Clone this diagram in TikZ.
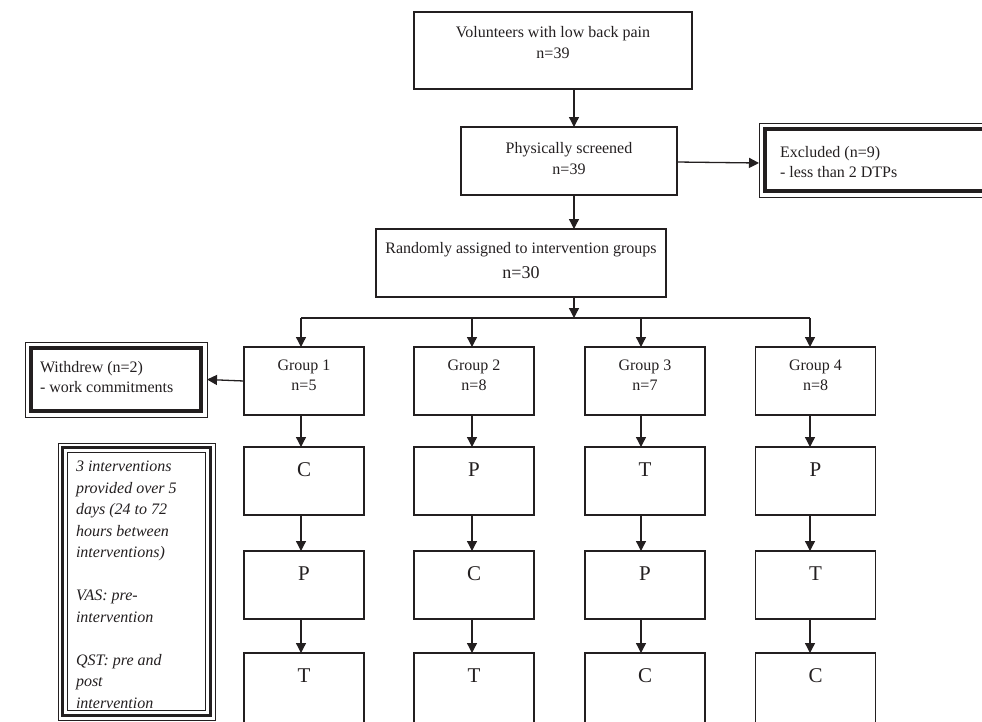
\documentclass[tikz,border=0pt]{standalone}
\usepackage{fontspec}
\setmainfont{Liberation Serif}
\usetikzlibrary{arrows.meta}
\definecolor{ink}{HTML}{231F20}
\begin{document}
\begin{tikzpicture}[x=1pt,y=-1pt,
  every node/.style={inner sep=0pt, outer sep=0pt},
  box/.style={draw=ink, line width=1.1pt, rectangle},
  thinb/.style={draw=ink, line width=0.9pt},
  thickb/.style={draw=ink, line width=4pt},
  midb/.style={draw=ink, line width=3pt},
  lbl/.style={font=\fontsize{16}{21}\selectfont, align=center, text=ink, anchor=base},
  lbll/.style={font=\fontsize{16}{20}\selectfont, align=left, text=ink, anchor=base west},
  big/.style={font=\fontsize{21}{24}\selectfont, text=ink, anchor=base},
  ital/.style={font=\itshape\fontsize{16}{21.5}\selectfont, align=left, text=ink, anchor=base west},
  arr/.style={draw=ink, line width=1.3pt, -{Triangle[length=10pt,width=10pt]}},
  bus/.style={draw=ink, line width=1.3pt}
]
\useasboundingbox (0,0) rectangle (982,721);

% column / axis coordinates
\coordinate (ax) at (574,0);
\coordinate (c1) at (301,0);
\coordinate (c2) at (472,0);
\coordinate (c3) at (641,0);
\coordinate (c4) at (810,0);
\coordinate (busc) at (574,318);

% main boxes (multi-line labels are anchored at the baseline of their last line)
\node[box, minimum width=278pt, minimum height=77pt] (top) at (553,50.5) {};
\node[lbl] (topt) at (553,58.5) {Volunteers with low back pain\\n=39};

\node[box, minimum width=216pt, minimum height=68pt] (scr) at (569,161) {};
\node[lbl] (scrt) at (569,174.5) {Physically screened\\n=39};

\node[box, minimum width=290pt, minimum height=68pt] (rnd) at (521,263) {};
\node[lbl, font=\fontsize{16}{24.5}\selectfont] (rndt) at (521,278) {Randomly assigned to intervention groups\\{\fontsize{18}{24.5}\selectfont n=30}};

% excluded box (thin outer, thick inner)
\node[thinb, minimum width=231pt, minimum height=74pt] (ex) at (874.5,160) {};
\draw[thickb] ([shift={(6,6)}]ex.north west) rectangle ([shift={(-6,-6)}]ex.south east);
\node[lbll] (ext) at (780,177.5) {Excluded (n=9)\\- less than 2 DTPs};

% groups
\node[box, minimum width=120pt, minimum height=68pt] (g1) at (304,381) {};
\node[box, minimum width=120pt, minimum height=68pt] (g2) at (474,381) {};
\node[box, minimum width=120pt, minimum height=68pt] (g3) at (645,381) {};
\node[box, minimum width=120pt, minimum height=68pt] (g4) at (815.5,381) {};
\node[lbl, font=\fontsize{16}{20}\selectfont] (g1t) at (304,390.5) {Group 1\\n=5};
\node[lbl, font=\fontsize{16}{20}\selectfont] (g2t) at (474,390.5) {Group 2\\n=8};
\node[lbl, font=\fontsize{16}{20}\selectfont] (g3t) at (645,390.5) {Group 3\\n=7};
\node[lbl, font=\fontsize{16}{20}\selectfont] (g4t) at (815.5,390.5) {Group 4\\n=8};

% withdrew box
\node[thinb, minimum width=182pt, minimum height=75pt] (wd) at (116,379.5) {};
\draw[thickb] ([shift={(6,6)}]wd.north west) rectangle ([shift={(-6,-6)}]wd.south east);
\node[lbll] (wdt) at (40,392.5) {Withdrew (n=2)\\- work commitments};

% intervention rows
\foreach \cx/\nm/\a/\b/\c in {304/1/C/P/T, 474/2/P/C/T, 645/3/T/P/C, 815.5/4/P/T/C}{
  \node[box, minimum width=120pt, minimum height=68pt] (r1\nm) at (\cx,481) {};
  \node[box, minimum width=120pt, minimum height=68pt] (r2\nm) at (\cx,585) {};
  \node[box, minimum width=120pt, minimum height=72pt] (r3\nm) at (\cx,689) {};
  \node[big] (r1t\nm) at (\cx,476.5) {\a};
  \node[big] (r2t\nm) at (\cx,580.5) {\b};
  \node[big] (r3t\nm) at (\cx,682.5) {\c};
}

% italic note box (triple border)
\node[thinb, minimum width=157pt, minimum height=277pt] (note) at (136.5,581.5) {};
\draw[midb] ([shift={(4.5,4.5)}]note.north west) rectangle ([shift={(-4.5,-4.5)}]note.south east);
\draw[thinb] ([shift={(9.5,9.5)}]note.north west) rectangle ([shift={(-9.5,-9.5)}]note.south east);
\node[ital] (notet) at (76,708) {3 interventions\\provided over 5\\days (24 to 72\\hours between\\interventions)\\[21.5pt]VAS: pre-\\intervention\\[21.5pt]QST: pre and\\post\\intervention};

% connectors
\draw[arr] (top.south -| ax) -- (scr.north -| ax);
\draw[arr] (scr.south -| ax) -- (rnd.north -| ax);
\draw[arr] (rnd.south -| ax) -- (busc);
\draw[bus] (busc -| c1) -- (busc -| c4);
\draw[arr] ([yshift=-1pt]scr.east) -- ([yshift=-3pt]ex.west);
\draw[arr] (busc -| c1) -- (g1.north -| c1);
\draw[arr] (busc -| c2) -- (g2.north -| c2);
\draw[arr] (busc -| c3) -- (g3.north -| c3);
\draw[arr] (busc -| c4) -- (g4.north -| c4);
\draw[arr] (g1.west) -- (wd.east);
\foreach \nm/\cc in {1/c1,2/c2,3/c3,4/c4}{
  \draw[arr] (g\nm.south -| \cc) -- (r1\nm.north -| \cc);
  \draw[arr] (r1\nm.south -| \cc) -- (r2\nm.north -| \cc);
  \draw[arr] (r2\nm.south -| \cc) -- (r3\nm.north -| \cc);
}
\end{tikzpicture}
\end{document}
